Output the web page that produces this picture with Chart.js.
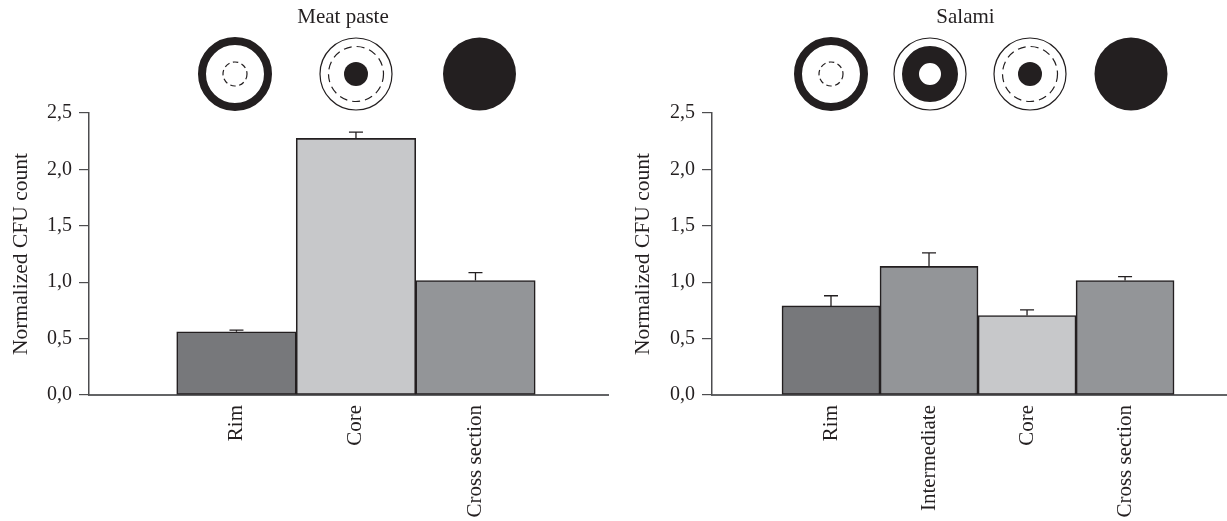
<!DOCTYPE html>
<html>
<head>
<meta charset="utf-8">
<style>
  html, body { margin: 0; padding: 0; background: #fff; }
  .panel { position: absolute; top: 0; height: 521px; }
  #meatPanel { left: 0; width: 614px; }
  #salamiPanel { left: 614px; width: 613px; }
</style>
<script src="https://cdn.jsdelivr.net/npm/chart.js@4/dist/chart.umd.min.js"></script>
</head>
<body>
<div class="panel" id="meatPanel"><canvas id="meatChart"></canvas></div>
<div class="panel" id="salamiPanel"><canvas id="salamiChart"></canvas></div>
<script>
// Значения
const yTickLabels = ['0,0', '0,5', '1,0', '1,5', '2,0', '2,5'];
const yTitle = 'Normalized CFU count';

const meatTitle = 'Meat paste';
const meatLabels = ['Rim', 'Core', 'Cross section'];
const meatValues = [0.56, 2.275, 1.015];
const meatErrors = [0.015, 0.055, 0.07];

const salamiTitle = 'Salami';
const salamiLabels = ['Rim', 'Intermediate', 'Core', 'Cross section'];
const salamiValues = [0.79, 1.14, 0.705, 1.015];
const salamiErrors = [0.09, 0.12, 0.05, 0.035];

const INK = '#231f20';
const AXIS = '#4d4d4f';
const BASELINE = '#636466';
const DARK = '#77787b';
const MID = '#939598';
const LIGHT = '#c7c8ca';
const FONT = '"Liberation Serif", serif';

function circle(ctx, x, y, r) {
    ctx.beginPath();
    ctx.arc(x, y, r, 0, Math.PI * 2);
}

// Пиктограммы срезов над столбцами
function drawIcon(ctx, kind, x, y) {
    ctx.save();
    ctx.strokeStyle = INK;
    ctx.fillStyle = INK;
    if (kind === 'rim') {
        ctx.lineWidth = 8;
        circle(ctx, x, y, 33);
        ctx.stroke();
        ctx.lineWidth = 1.2;
        ctx.setLineDash([5.5, 3.5]);
        circle(ctx, x, y, 12);
        ctx.stroke();
    } else if (kind === 'core') {
        ctx.lineWidth = 1.2;
        circle(ctx, x, y, 36);
        ctx.stroke();
        ctx.setLineDash([8, 5]);
        circle(ctx, x, y, 27.5);
        ctx.stroke();
        circle(ctx, x, y, 12);
        ctx.fill();
    } else if (kind === 'intermediate') {
        ctx.lineWidth = 1.2;
        circle(ctx, x, y, 36);
        ctx.stroke();
        ctx.lineWidth = 17;
        circle(ctx, x, y, 19.5);
        ctx.stroke();
    } else {
        circle(ctx, x, y, 36.5);
        ctx.fill();
    }
    ctx.restore();
}

const headerPlugin = {
    id: 'header',
    afterDraw(chart, args, opts) {
        const ctx = chart.ctx;
        ctx.save();
        ctx.fillStyle = INK;
        ctx.font = opts.titleSize + 'px ' + FONT;
        ctx.textAlign = 'center';
        ctx.textBaseline = 'middle';
        ctx.fillText(opts.title, opts.titleX, 17);
        ctx.restore();
        opts.icons.forEach(icon => drawIcon(ctx, icon.kind, icon.x, 74));
    }
};

// Планки погрешностей, только вверх
const errorBarsPlugin = {
    id: 'errorBars',
    afterDatasetsDraw(chart, args, opts) {
        const ctx = chart.ctx;
        const meta = chart.getDatasetMeta(0);
        const y = chart.scales.y;
        ctx.save();
        ctx.strokeStyle = INK;
        ctx.lineWidth = 1.3;
        opts.errors.forEach((err, i) => {
            const bar = meta.data[i];
            const top = y.getPixelForValue(opts.values[i] + err);
            ctx.beginPath();
            ctx.moveTo(bar.x, bar.y);
            ctx.lineTo(bar.x, top);
            ctx.moveTo(bar.x - 7, top);
            ctx.lineTo(bar.x + 7, top);
            ctx.stroke();
        });
        ctx.restore();
    }
};

function makeChart(canvasId, cfg) {
    const ctx = document.getElementById(canvasId).getContext('2d');
    return new Chart(ctx, {
        type: 'bar',
        plugins: [headerPlugin, errorBarsPlugin],
        data: {
            datasets: [{
                data: cfg.values.map((v, i) => ({ x: i + 1, y: v })),
                backgroundColor: cfg.colors,
                borderColor: INK,
                borderWidth: 1.6,
                borderSkipped: false,
                barPercentage: 1,
                categoryPercentage: 1
            }]
        },
        options: {
            responsive: true,
            maintainAspectRatio: false,
            animation: false,
            layout: { padding: { left: 0, top: 113, right: cfg.paddingRight, bottom: 0 } },
            plugins: {
                legend: { display: false },
                tooltip: { enabled: false },
                header: { title: cfg.title, titleX: cfg.titleX, titleSize: 21, icons: cfg.icons },
                errorBars: { values: cfg.values, errors: cfg.errors }
            },
            scales: {
                x: {
                    type: 'linear',
                    offset: false,
                    min: cfg.xMin,
                    max: cfg.xMax,
                    afterBuildTicks: scale => {
                        scale.ticks = cfg.labels.map((l, i) => ({ value: i + 1 }));
                    },
                    afterFit: scale => { scale.height = 126; },
                    border: { color: BASELINE, width: 2 },
                    grid: { display: true, offset: false, drawOnChartArea: false, drawTicks: false },
                    ticks: {
                        autoSkip: false,
                        minRotation: 90,
                        maxRotation: 90,
                        padding: 10,
                        color: INK,
                        font: { family: FONT, size: 21 },
                        callback: value => cfg.labels[value - 1]
                    }
                },
                y: {
                    min: 0,
                    max: 2.5,
                    afterFit: scale => { scale.width = cfg.axisLeft; },
                    border: { color: AXIS, width: 1.5 },
                    grid: { drawOnChartArea: false, color: AXIS, lineWidth: 1.2, tickLength: 10 },
                    ticks: {
                        stepSize: 0.5,
                        padding: 7,
                        color: INK,
                        font: { family: FONT, size: 20 },
                        callback: (value, index) => yTickLabels[index]
                    },
                    title: {
                        display: true,
                        text: yTitle,
                        color: INK,
                        font: { family: FONT, size: 21.5 },
                        padding: { top: cfg.titlePad, bottom: 0 }
                    }
                }
            }
        }
    });
}

makeChart('meatChart', {
    title: meatTitle,
    titleX: 343,
    labels: meatLabels,
    values: meatValues,
    errors: meatErrors,
    colors: [DARK, LIGHT, MID],
    icons: [{ kind: 'rim', x: 235 }, { kind: 'core', x: 356 }, { kind: 'whole', x: 479.5 }],
    axisLeft: 89,
    titlePad: 8,
    paddingRight: 6,
    xMin: -0.234,
    xMax: 4.109
});

makeChart('salamiChart', {
    title: salamiTitle,
    titleX: 351.5,
    labels: salamiLabels,
    values: salamiValues,
    errors: salamiErrors,
    colors: [DARK, MID, LIGHT, MID],
    icons: [{ kind: 'rim', x: 217 }, { kind: 'intermediate', x: 316 }, { kind: 'core', x: 416 }, { kind: 'whole', x: 517 }],
    axisLeft: 98,
    titlePad: 16,
    paddingRight: 0,
    xMin: -0.214,
    xMax: 5.04
});
</script>
</body>
</html>
